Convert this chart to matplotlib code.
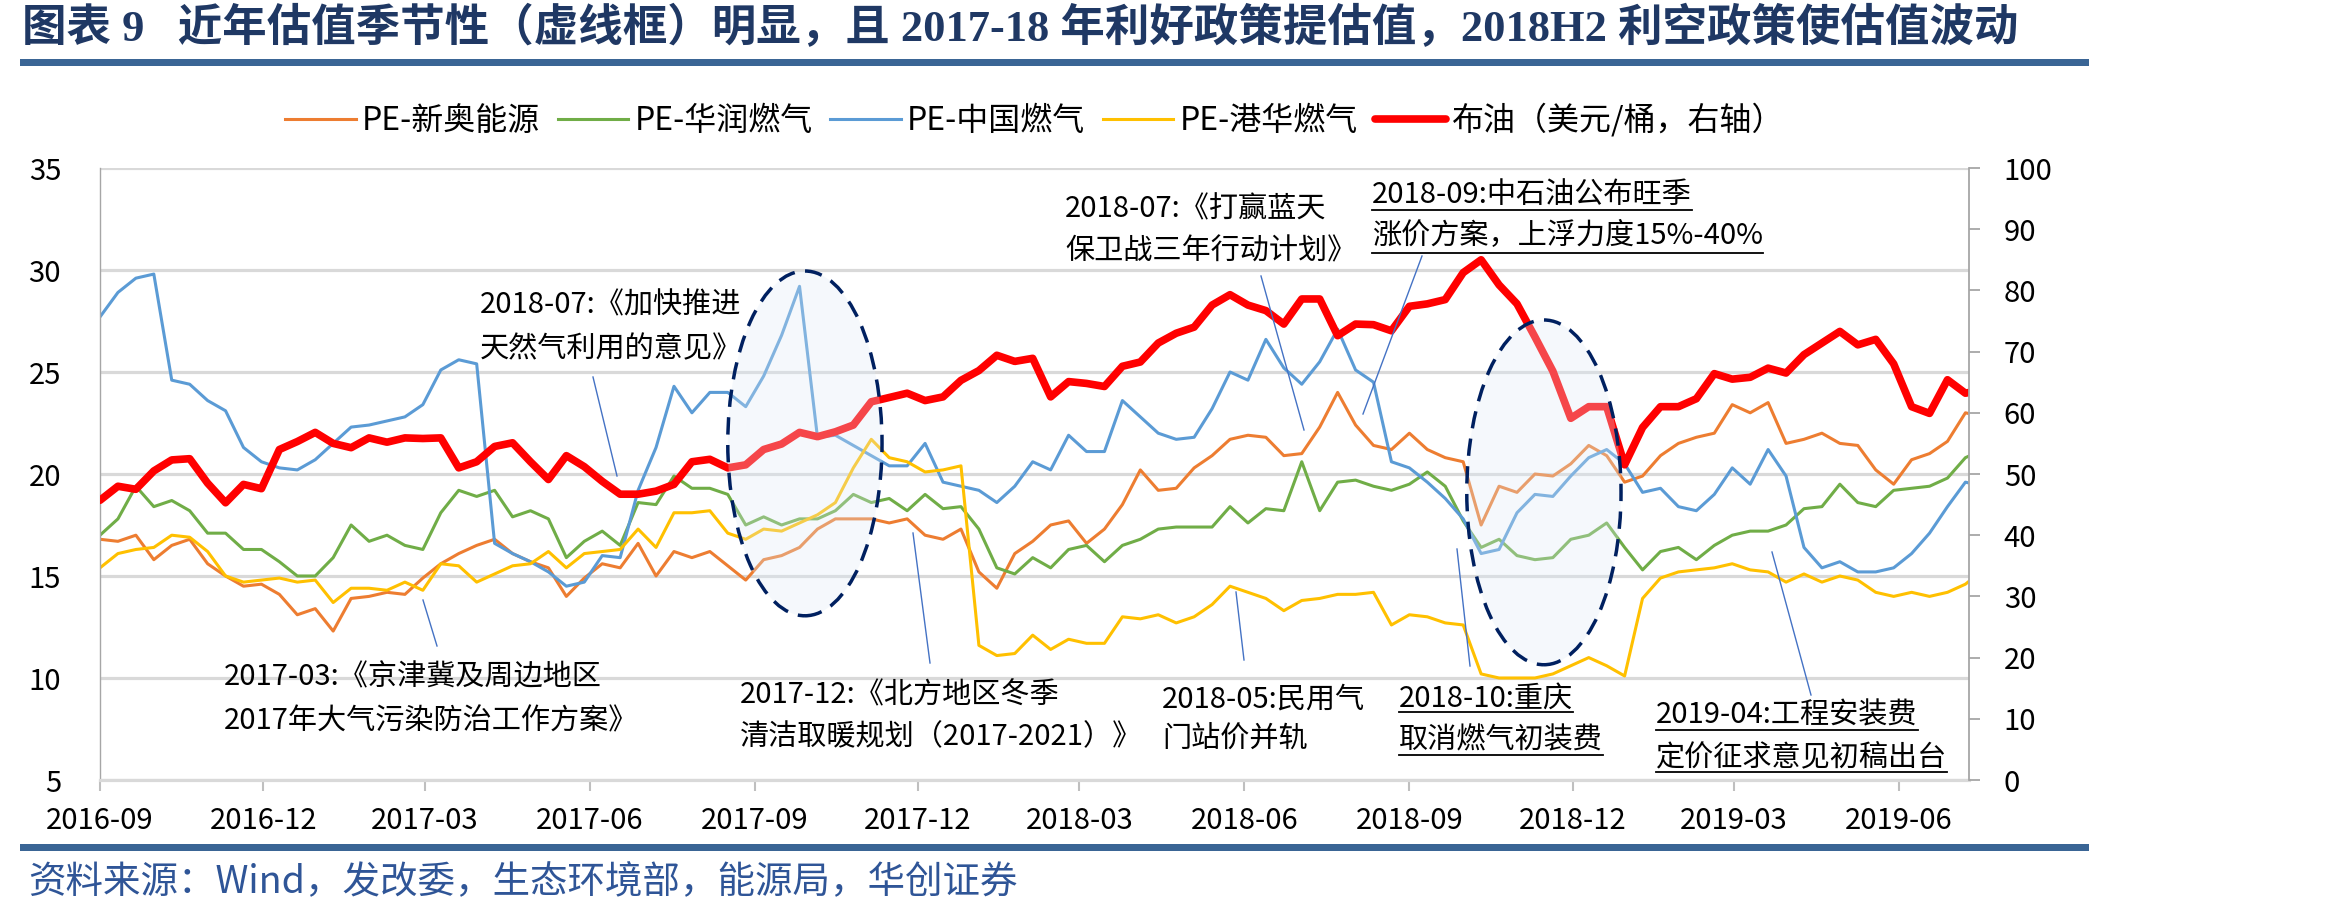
import numpy as np
import pandas as pd
import matplotlib
matplotlib.use('Agg')
import matplotlib.pyplot as plt
import matplotlib.dates as mdates
from matplotlib.lines import Line2D
from matplotlib.patches import Ellipse, Rectangle

plt.rcParams['font.family'] = ['Noto Sans CJK SC', 'DejaVu Sans']
plt.rcParams['axes.unicode_minus'] = False

# 数据：每10天取一个点
dates = pd.date_range('2016-09-01', periods=106, freq='10D')

pe_xinao = [16.8, 16.7, 17.0, 15.8, 16.5, 16.8, 15.6, 15.0, 14.5, 14.6, 14.1, 13.1, 13.4, 12.3, 13.9, 14.0, 14.2, 14.1, 14.9, 15.6, 16.1,
            16.5, 16.8, 16.1, 15.7, 15.4, 14.0, 14.9, 15.6, 15.4, 16.6, 15.0, 16.2, 15.9, 16.2, 15.5, 14.8, 15.8, 16.0, 16.4, 17.3, 17.8,
            17.8, 17.8, 17.6, 17.8, 17.0, 16.8, 17.3, 15.2, 14.4, 16.1, 16.7, 17.5, 17.7, 16.6, 17.3, 18.5, 20.2, 19.2, 19.3, 20.3, 20.9,
            21.7, 21.9, 21.8, 20.9, 21.0, 22.3, 24.0, 22.4, 21.4, 21.2, 22.0, 21.2, 20.8, 20.6, 17.5, 19.4, 19.1, 20.0, 19.9, 20.5, 21.4,
            20.9, 19.6, 19.9, 20.9, 21.5, 21.8, 22.0, 23.4, 23.0, 23.5, 21.5, 21.7, 22.0, 21.5, 21.4, 20.2, 19.5, 20.7, 21.0, 21.6, 23.0, 22.8]

pe_huarun = [17.0, 17.8, 19.4, 18.4, 18.7, 18.2, 17.1, 17.1, 16.3, 16.3, 15.7, 15.0, 15.0, 15.9, 17.5, 16.7, 17.0, 16.5, 16.3, 18.1, 19.2,
             18.9, 19.2, 17.9, 18.2, 17.8, 15.9, 16.7, 17.2, 16.5, 18.6, 18.5, 19.9, 19.3, 19.3, 19.0, 17.5, 17.9, 17.5, 17.8, 17.8, 18.2,
             19.0, 18.6, 18.8, 18.2, 19.0, 18.3, 18.4, 17.3, 15.4, 15.1, 15.9, 15.4, 16.3, 16.5, 15.7, 16.5, 16.8, 17.3, 17.4, 17.4, 17.4,
             18.4, 17.6, 18.3, 18.2, 20.6, 18.2, 19.6, 19.7, 19.4, 19.2, 19.5, 20.1, 19.4, 17.7, 16.4, 16.8, 16.0, 15.8, 15.9, 16.8, 17.0,
             17.6, 16.4, 15.3, 16.2, 16.4, 15.8, 16.5, 17.0, 17.2, 17.2, 17.5, 18.3, 18.4, 19.5, 18.6, 18.4, 19.2, 19.3, 19.4, 19.8, 20.8, 21.2]

pe_zhongguo = [27.7, 28.9, 29.6, 29.8, 24.6, 24.4, 23.6, 23.1, 21.3, 20.6, 20.3, 20.2, 20.7, 21.5, 22.3, 22.4, 22.6, 22.8, 23.4, 25.1, 25.6,
               25.4, 16.6, 16.1, 15.7, 15.2, 14.5, 14.7, 16.0, 15.9, 19.2, 21.3, 24.3, 23.0, 24.0, 24.0, 23.3, 24.8, 26.8, 29.2, 21.8, 21.9,
               21.4, 20.9, 20.4, 20.4, 21.5, 19.6, 19.4, 19.2, 18.6, 19.4, 20.6, 20.2, 21.9, 21.1, 21.1, 23.6, 22.8, 22.0, 21.7, 21.8, 23.2,
               25.0, 24.6, 26.6, 25.2, 24.4, 25.5, 27.1, 25.1, 24.5, 20.6, 20.3, 19.6, 18.8, 17.8, 16.1, 16.3, 18.1, 19.0, 18.9, 19.9, 20.8,
               21.2, 20.5, 19.1, 19.3, 18.4, 18.2, 19.0, 20.3, 19.5, 21.2, 19.9, 16.4, 15.4, 15.7, 15.2, 15.2, 15.4, 16.1, 17.1, 18.4, 19.6, 19.4]

pe_ganghua = [15.4, 16.1, 16.3, 16.4, 17.0, 16.9, 16.2, 15.0, 14.7, 14.8, 14.9, 14.7, 14.8, 13.7, 14.4, 14.4, 14.3, 14.7, 14.3, 15.6, 15.5,
              14.7, 15.1, 15.5, 15.6, 16.2, 15.4, 16.1, 16.2, 16.3, 17.3, 16.4, 18.1, 18.1, 18.2, 17.1, 16.8, 17.3, 17.2, 17.6, 18.0, 18.6,
              20.3, 21.7, 20.8, 20.6, 20.1, 20.2, 20.4, 11.6, 11.1, 11.2, 12.1, 11.4, 11.9, 11.7, 11.7, 13.0, 12.9, 13.1, 12.7, 13.0, 13.6,
              14.5, 14.2, 13.9, 13.3, 13.8, 13.9, 14.1, 14.1, 14.2, 12.6, 13.1, 13.0, 12.7, 12.6, 10.2, 10.0, 10.0, 10.0, 10.2, 10.6, 11.0,
              10.6, 10.1, 13.9, 14.9, 15.2, 15.3, 15.4, 15.6, 15.3, 15.2, 14.7, 15.1, 14.7, 15.0, 14.8, 14.2, 14.0, 14.2, 14.0, 14.2, 14.6, 15.3]

brent = [45.7, 48.0, 47.5, 50.5, 52.3, 52.5, 48.5, 45.3, 48.3, 47.6, 54.0, 55.3, 56.8, 55.0, 54.3, 55.9, 55.2, 55.9, 55.8, 55.9, 51.0,
         52.0, 54.5, 55.1, 52.0, 49.1, 53.0, 51.2, 48.8, 46.7, 46.7, 47.2, 48.3, 52.0, 52.4, 51.0, 51.5, 54.0, 54.9, 56.8, 56.1, 56.9,
         58.0, 61.8, 62.5, 63.2, 62.0, 62.6, 65.3, 66.9, 69.4, 68.4, 68.9, 62.6, 65.1, 64.8, 64.3, 67.6, 68.3, 71.4, 73.0, 74.0, 77.6,
         79.3, 77.6, 76.7, 74.5, 78.6, 78.6, 72.6, 74.5, 74.4, 73.4, 77.4, 77.8, 78.5, 82.9, 85.0, 80.9, 77.8, 72.4, 66.8, 59.1, 61.0,
         61.0, 51.5, 57.6, 61.0, 61.0, 62.3, 66.4, 65.5, 65.8, 67.3, 66.5, 69.5, 71.4, 73.3, 71.1, 72.0, 68.0, 61.0, 59.9, 65.4, 63.2, 63.8]

pe_series = [('PE-新奥能源', pe_xinao, '#ED7D31'),
             ('PE-华润燃气', pe_huarun, '#70AD47'),
             ('PE-中国燃气', pe_zhongguo, '#5B9BD5'),
             ('PE-港华燃气', pe_ganghua, '#FFC000')]
oil_label = '布油（美元/桶，右轴）'

W, H = 2327, 917


def fx(x):
    return x / W


def fy(y):
    return 1 - y / H


fig = plt.figure(figsize=(W / 100, H / 100), dpi=100)
ax = fig.add_axes([fx(100), fy(780), (1969 - 100) / W, (780 - 168) / H])
ax2 = ax.twinx()

handles = []
for name, vals, col in pe_series:
    ln, = ax.plot(dates, vals, color=col, lw=2.2, solid_joinstyle='round', label=name)
    handles.append(ln)
ln, = ax2.plot(dates, brent, color='#FF0000', lw=5.5, solid_joinstyle='round', solid_capstyle='round', label=oil_label)
handles.append(ln)

ax.set_ylim(5, 35)
ax.set_yticks(range(5, 40, 5))
ax2.set_ylim(0, 100)
ax2.set_yticks(range(0, 110, 10))
ax.set_xlim(pd.Timestamp('2016-09-01'), pd.Timestamp('2019-07-10'))
ax.xaxis.set_major_locator(mdates.MonthLocator(bymonth=[3, 6, 9, 12]))
ax.xaxis.set_major_formatter(mdates.DateFormatter('%Y-%m'))

ax.yaxis.grid(True, color='#D9D9D9', lw=2.3)
ax.set_axisbelow(True)
for s in ['top', 'right']:
    ax.spines[s].set_visible(False)
ax.spines['bottom'].set_color('#D9D9D9')
ax.spines['bottom'].set_linewidth(2.3)
ax.spines['left'].set_color('#A6A6A6')
ax.spines['left'].set_linewidth(1.0)
for s in ['top', 'left', 'bottom']:
    ax2.spines[s].set_visible(False)
ax2.spines['right'].set_color('#A6A6A6')
ax2.spines['right'].set_linewidth(1.3)

ax.tick_params(axis='y', length=0, pad=28, labelsize=21)
ax.tick_params(axis='x', direction='out', length=8, width=1.5, color='#BFBFBF', pad=11, labelsize=21)
ax2.tick_params(axis='y', direction='out', length=8, width=1.3, color='#A6A6A6', pad=17, labelsize=21)

# 虚线框（季节性）
for cdate, cval in [('2017-09-29', 21.5), ('2018-11-15', 19.1)]:
    xc = mdates.date2num(pd.Timestamp(cdate))
    ax2.add_patch(Ellipse((xc, cval), 86, 16.9, transform=ax.transData,
                          facecolor='#DEEBF7', edgecolor='none', alpha=0.3, zorder=5))
    ax2.add_patch(Ellipse((xc, cval), 86, 16.9, transform=ax.transData,
                          facecolor='none', edgecolor='#002060', lw=2.5,
                          linestyle=(0, (5, 3)), zorder=6))

# 标题、分隔条、来源
fig.text(fx(22), fy(28), '图表 9   近年估值季节性（虚线框）明显，且 2017-18 年利好政策提估值，2018H2 利空政策使估值波动',
         fontsize=32, fontweight='bold', color='#1F3864', va='center', ha='left',
         family=['Liberation Serif', 'Noto Sans CJK SC'])
for ytop in [59, 844]:
    fig.add_artist(Rectangle((fx(20), fy(ytop + 7)), (2089 - 20) / W, 7 / H,
                             transform=fig.transFigure, color='#3A6595', lw=0))
fig.text(fx(28), fy(883), '资料来源：Wind，发改委，生态环境部，能源局，华创证券',
         fontsize=27, color='#2F5597', style='italic', va='center', ha='left')

fig.legend(handles, [h.get_label() for h in handles], loc='center',
           bbox_to_anchor=(fx(1035), fy(120)), ncol=5, frameon=False, fontsize=23,
           handlelength=2.2, handletextpad=0.2, columnspacing=0.55)

# 政策注释：文字行、是否下划线、引线
notes = [
    (['2018-07:《加快推进', '天然气利用的意见》'], 480, [305, 349], None, ((593, 377), (617, 476))),
    (['2017-03:《京津冀及周边地区', '2017年大气污染防治工作方案》'], 224, [677, 721], None, ((423, 600), (437, 646))),
    (['2017-12:《北方地区冬季', '清洁取暖规划（2017-2021）》'], 740, [695, 737], None, ((913, 533), (930, 663))),
    (['2018-05:民用气', '门站价并轨'], 1162, [700, 740], None, ((1236, 592), (1244, 660))),
    (['2018-07:《打赢蓝天', '保卫战三年行动计划》'], 1065, [209, 251], None, ((1261, 276), (1304, 430))),
    (['2018-09:中石油公布旺季', '涨价方案，上浮力度15%-40%'], 1372, [195, 236], [210, 253], ((1422, 256), (1363, 414))),
    (['2018-10:重庆', '取消燃气初装费'], 1399, [699, 740], [712, 755], ((1457, 549), (1470, 666))),
    (['2019-04:工程安装费', '定价征求意见初稿出台'], 1656, [715, 757], [730, 772], ((1772, 552), (1811, 695))),
]

renderer = fig.canvas.get_renderer()
for lines, x0, ys, uls, leader in notes:
    for i, (txt, yc) in enumerate(zip(lines, ys)):
        t = fig.text(fx(x0), fy(yc), txt, fontsize=21, color='black', va='center', ha='left')
        if uls is not None:
            bb = t.get_window_extent(renderer)
            fig.add_artist(Line2D([fx(x0), bb.x1 / W], [fy(uls[i]), fy(uls[i])],
                                  transform=fig.transFigure, color='black', lw=1.3))
    (xa, ya), (xb, yb) = leader
    fig.add_artist(Line2D([fx(xa), fx(xb)], [fy(ya), fy(yb)], transform=fig.transFigure,
                          color='#4472C4', lw=1.0))

fig.savefig('out.png', dpi=100)
